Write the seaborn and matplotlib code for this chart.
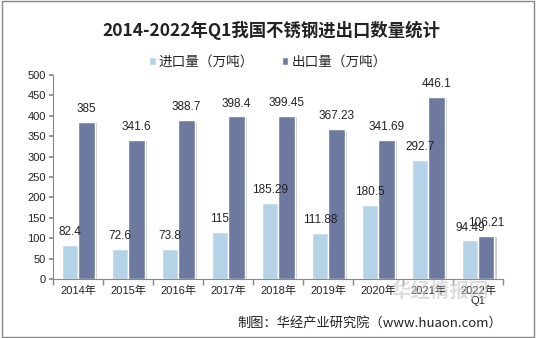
import matplotlib
matplotlib.use("Agg")
import matplotlib.pyplot as plt
import matplotlib.patheffects as pe
from matplotlib.patches import Patch
import seaborn as sns
import pandas as pd

years = ["2014年", "2015年", "2016年", "2017年", "2018年", "2019年", "2020年", "2021年", "2022年\nQ1"]
imports = [82.4, 72.6, 73.8, 115, 185.29, 111.88, 180.5, 292.7, 94.49]
exports = [385, 341.6, 388.7, 398.4, 399.45, 367.23, 341.69, 446.1, 106.21]
import_labels = ["82.4", "72.6", "73.8", "115", "185.29", "111.88", "180.5", "292.7", "94.49"]
export_labels = ["385", "341.6", "388.7", "398.4", "399.45", "367.23", "341.69", "446.1", "106.21"]
series = ["进口量（万吨）", "出口量（万吨）"]
colors = ["#B5D3E6", "#6E799F"]

df = pd.DataFrame({
    "year": years * 2,
    "value": imports + exports,
    "series": [series[0]] * len(years) + [series[1]] * len(years),
})

sns.set_theme(style="white")
plt.rcParams["font.family"] = ["Liberation Sans", "Noto Sans CJK SC", "DejaVu Sans"]

fig = plt.figure(figsize=(5.36, 3.38), dpi=100)
ax = fig.add_axes([53 / 536, 59 / 338, 450 / 536, 204 / 338])

sns.barplot(data=df, x="year", y="value", hue="series", palette=colors,
            ax=ax, width=0.66, saturation=1, legend=False)

for p in ax.patches:
    p.set_path_effects([pe.SimplePatchShadow(offset=(2, -1), shadow_rgbFace="#999999", alpha=0.5), pe.Normal()])

for cont, labs in zip(ax.containers, [import_labels, export_labels]):
    ax.bar_label(cont, labels=labs, padding=5, fontsize=8.5, color="#222222")

ax.set_ylim(0, 500)
ax.set_yticks(range(0, 501, 50))
ax.set_xlim(-0.5, len(years) - 0.5)
ax.set_xlabel("")
ax.set_ylabel("")
ax.set_xticks(range(len(years)))
ax.set_xticklabels(years, fontsize=8, color="#222222", linespacing=0.9)
ax.set_xticks([i + 0.5 for i in range(-1, len(years))], minor=True)
ax.tick_params(axis="x", which="major", length=0, pad=5)
ax.tick_params(axis="x", which="minor", length=4, color="#888888", direction="out", bottom=True)
ax.tick_params(axis="y", length=3, color="#888888", direction="out", left=True, labelsize=8,
               labelcolor="#222222", pad=2)

for s in ["top", "right"]:
    ax.spines[s].set_visible(False)
for s in ["left", "bottom"]:
    ax.spines[s].set_color("#888888")
    ax.spines[s].set_linewidth(0.8)

handles = [Patch(facecolor=c) for c in colors]
fig.legend(handles, series, loc="center", bbox_to_anchor=(0.5, 1 - 62 / 338), ncol=2,
           frameon=False, prop={"family": ["Noto Sans CJK SC"], "size": 9.8},
           handlelength=0.5, handleheight=0.5, handletextpad=0.25, columnspacing=2.0)

fig.text(0.5 + 3 / 536, 1 - 30 / 338, "2014-2022年Q1我国不锈钢进出口数量统计", ha="center", va="center",
         fontsize=12.5, fontweight="bold", color="#222222",
         family=["Noto Sans CJK SC", "DejaVu Sans"])

fig.text(440 / 536, 1 - 291 / 338, "华经情报网", ha="center", va="center", fontsize=14,
         color="#c8c8c8", alpha=0.6, fontweight="bold", family=["Noto Sans CJK SC"])
fig.text(502 / 536, 1 - 323 / 338, "制图：华经产业研究院（www.huaon.com）", ha="right", va="center",
         fontsize=9.5, color="#222222", family=["Noto Sans CJK SC", "DejaVu Sans"])

fig.patches.append(plt.Rectangle((0.003, 0.004), 0.994, 0.992, transform=fig.transFigure,
                                 fill=False, edgecolor="#888888", linewidth=1))

fig.savefig("out.png", dpi=100)
